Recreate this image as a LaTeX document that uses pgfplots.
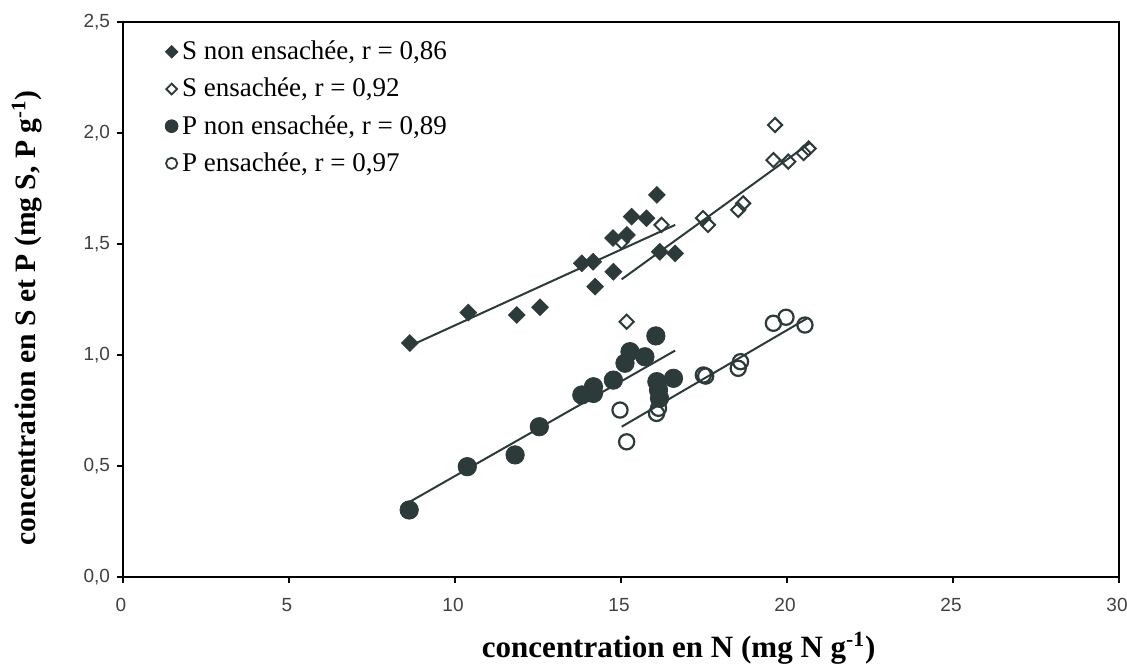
\documentclass[border=0pt]{standalone}
\usepackage{fontspec}
\setmainfont{Liberation Serif}
\newfontfamily\tickfont{Liberation Sans}
\usepackage{pgfplots}
\pgfplotsset{compat=1.18}
\definecolor{mk}{RGB}{45,58,58}
\begin{document}
\begin{tikzpicture}
\useasboundingbox (-61.5pt,-46.5pt) rectangle (502pt,288.5pt);
\begin{axis}[
  at={(0,0)}, anchor=south west,
  scale only axis, width=498pt, height=277.5pt,
  xmin=0, xmax=30, ymin=0, ymax=2.5,
  xtick={0,5,...,30}, ytick={0,0.5,...,2.5},
  axis line style={line width=1pt},
  tick align=outside, tick pos=left, major tick length=3pt,
  tick style={line width=0.6pt, black},
  /pgf/number format/assume math mode=true,
  ticklabel style={font=\tickfont\fontsize{9.5}{10}\selectfont, text=black!75},
  y tick label style={/pgf/number format/.cd, fixed, fixed zerofill, precision=1, use comma, /tikz/.cd},
  x tick label style={yshift=-4pt, xshift=-1pt, /pgf/number format/.cd, fixed, precision=0, /tikz/.cd},
  xlabel={concentration en N (mg N g\textsuperscript{-1})},
  ylabel={concentration en S et P (mg S, P g\textsuperscript{-1})},
  xlabel style={at={(axis description cs:0.558,-0.128)}, anchor=center, font=\bfseries\fontsize{15.5}{17}\selectfont},
  ylabel style={at={(axis description cs:-0.0964,0.467)}, anchor=center, font=\bfseries\fontsize{14.8}{17}\selectfont},
  legend style={draw=none, fill=none, at={(axis description cs:0.042,0.981)}, anchor=north west,
    font=\fontsize{13.5}{15}\selectfont, row sep=3.7pt, inner xsep=0pt},
  legend cell align=left,
  legend image code/.code={\draw[#1] plot coordinates {(0.12cm,0cm)};},
]
% legend images
\addlegendimage{only marks, mark=square*, mark size=2.2pt, mark options={rotate=45, fill=mk, draw=mk}}
\addlegendentry{S non ensachée, r = 0,86}
\addlegendimage{only marks, mark=square, mark size=1.9pt, mark options={rotate=45, draw=mk, line width=0.9pt}}
\addlegendentry{S ensachée, r = 0,92}
\addlegendimage{only marks, mark=*, mark size=3.2pt, mark options={fill=mk, draw=mk}}
\addlegendentry{P non ensachée, r = 0,89}
\addlegendimage{only marks, mark=o, mark size=2.8pt, mark options={draw=mk, line width=0.9pt}}
\addlegendentry{P ensachée, r = 0,97}

% regression lines
\addplot[mk, line width=1pt, forget plot] coordinates {(8.70,1.045) (16.63,1.586)};
\addplot[mk, line width=1pt, forget plot] coordinates {(15.02,1.341) (20.69,1.955)};
\addplot[mk, line width=1pt, forget plot] coordinates {(8.64,0.339) (16.63,1.020)};
\addplot[mk, line width=1pt, forget plot] coordinates {(15.02,0.677) (20.63,1.167)};

% S non ensachee
\addplot[only marks, mark=square*, mark size=2.95pt, mark options={rotate=45, fill=mk, draw=mk}, forget plot] coordinates {
(8.64,1.054) (10.40,1.191) (11.86,1.180) (12.56,1.215) (13.82,1.413) (14.16,1.420)
(14.22,1.308) (14.76,1.527) (14.77,1.375) (15.18,1.541) (15.32,1.623) (15.77,1.616)
(16.08,1.721) (16.17,1.465) (16.63,1.458)};
% S ensachee
\addplot[only marks, mark=square, mark size=2.5pt, mark options={rotate=45, draw=mk, line width=1pt}, forget plot] coordinates {
(15.17,1.150) (15.02,1.510) (16.22,1.586) (16.17,1.464) (17.47,1.617) (17.62,1.586)
(18.53,1.654) (18.68,1.683) (19.59,1.878) (19.64,2.036) (20.04,1.871) (20.50,1.910) (20.65,1.930)};
% P non ensachee
\addplot[only marks, mark=*, mark size=4.6pt, mark options={fill=mk, draw=mk}, forget plot] coordinates {
(8.62,0.302) (10.37,0.497) (11.81,0.550) (12.54,0.677) (13.82,0.820) (14.17,0.857)
(14.17,0.827) (14.77,0.887) (15.12,0.963) (15.27,1.015) (15.72,0.992) (16.05,1.086)
(16.08,0.880) (16.13,0.842) (16.16,0.805) (16.58,0.895)};
% P ensachee
\addplot[only marks, mark=o, mark size=3.8pt, mark options={draw=mk, line width=1.1pt}, forget plot] coordinates {
(14.97,0.752) (15.17,0.609) (16.07,0.737) (16.13,0.760) (17.48,0.910) (17.55,0.905) (18.53,0.940)
(18.60,0.970) (19.59,1.143) (19.97,1.170) (20.54,1.135)};
\end{axis}
\end{tikzpicture}
\end{document}
